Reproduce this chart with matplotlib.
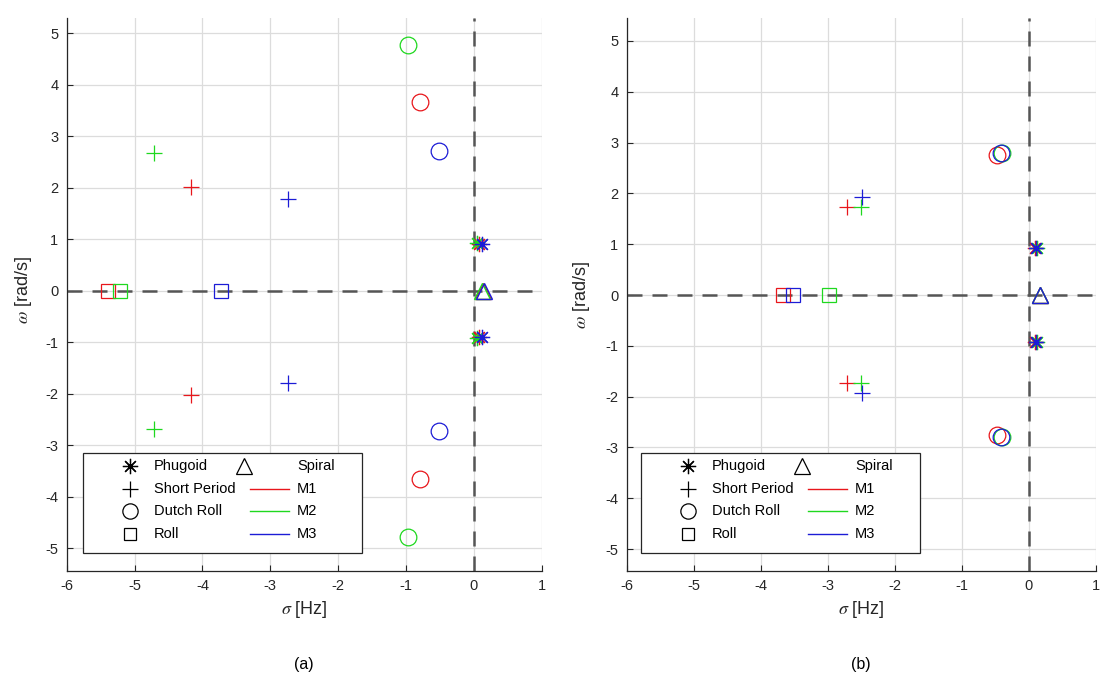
import matplotlib
matplotlib.use("Agg")
import matplotlib.pyplot as plt
from matplotlib.lines import Line2D
from matplotlib.patches import Rectangle

plt.rcParams['font.family'] = ['Liberation Sans', 'DejaVu Sans']
plt.rcParams['mathtext.fontset'] = 'stix'
plt.rcParams['axes.unicode_minus'] = False

# ---- eigenvalue data: sigma [Hz] (real part), omega [rad/s] (imag part) ----
models = ['M1', 'M2', 'M3']
colors = ['#e8161b', '#1fd81f', '#1c1cd6']

# (a)
phugoid_sigma_a = [0.08, 0.05, 0.12]
phugoid_omega_a = [0.90, 0.92, 0.90]
short_sigma_a = [-4.17, -4.71, -2.74]
short_omega_a = [2.02, 2.68, 1.79]
dutch_sigma_a = [-0.80, -0.97, -0.51]
dutch_omega_a = [3.66, 4.78, 2.72]
roll_sigma_a = [-5.39, -5.22, -3.72]
spiral_sigma_a = [0.13, 0.12, 0.15]

# (b)
phugoid_sigma_b = [0.09, 0.12, 0.11]
phugoid_omega_b = [0.92, 0.92, 0.92]
short_sigma_b = [-2.72, -2.50, -2.49]
short_omega_b = [1.74, 1.74, 1.92]
dutch_sigma_b = [-0.47, -0.40, -0.41]
dutch_omega_b = [2.75, 2.80, 2.79]
roll_sigma_b = [-3.67, -2.98, -3.52]
spiral_sigma_b = [0.16, 0.16, 0.16]

x_ticks = [-6, -5, -4, -3, -2, -1, 0, 1]
y_ticks = [-5, -4, -3, -2, -1, 0, 1, 2, 3, 4, 5]

W, H = 1102, 692
fig = plt.figure(figsize=(W / 100, H / 100), dpi=100)

AX_COL = '#262626'
DASH = '#555555'
ASTERISK = (8, 2, 0)   # plus and cross combined


def fx(px):
    return px / W


def fy(py):
    return 1 - py / H


def axes_px(left, right, top, bottom):
    return fig.add_axes([fx(left), fy(bottom), (right - left) / W, (bottom - top) / H])


def style_axes(ax, ylim):
    ax.set_xlim(-6, 1)
    ax.set_ylim(*ylim)
    ax.set_xticks(x_ticks)
    ax.set_yticks(y_ticks)
    ax.grid(True, color='#dcdcdc', linewidth=0.9)
    ax.set_axisbelow(True)
    for s in ('top', 'right'):
        ax.spines[s].set_visible(False)
    for s in ('left', 'bottom'):
        ax.spines[s].set_color(AX_COL)
        ax.spines[s].set_linewidth(0.9)
    ax.tick_params(direction='in', length=4, width=0.8, colors=AX_COL,
                   labelsize=10.5, pad=6)
    ax.axhline(0, color=DASH, lw=1.8, dashes=(6, 4), zorder=1)
    ax.axvline(0, color=DASH, lw=1.8, dashes=(6, 4), zorder=1)


def draw_modes(ax, ph_s, ph_w, sp_s, sp_w, dr_s, dr_w, ro_s, spi_s):
    for i, c in enumerate(colors):
        ax.plot([ph_s[i], ph_s[i]], [ph_w[i], -ph_w[i]], ls='none', marker=ASTERISK,
                ms=11, mfc='none', mec=c, mew=0.9, zorder=3)
        ax.plot([sp_s[i], sp_s[i]], [sp_w[i], -sp_w[i]], ls='none', marker='+',
                ms=12, mec=c, mew=0.9, zorder=3)
        ax.plot([dr_s[i], dr_s[i]], [dr_w[i], -dr_w[i]], ls='none', marker='o',
                ms=12, mfc='none', mec=c, mew=0.9, zorder=3)
        ax.plot([ro_s[i]], [0], ls='none', marker='s', ms=9.5, mfc='none',
                mec=c, mew=0.9, zorder=3)
        ax.plot([spi_s[i]], [0], ls='none', marker='^', ms=11, mfc='none',
                mec=c, mew=1.0, zorder=3)


def draw_legend(dx):
    box = Rectangle((fx(83 + dx), fy(553)), (279) / W, (100) / H,
                    transform=fig.transFigure, facecolor='white',
                    edgecolor=AX_COL, lw=0.9, zorder=10)
    fig.add_artist(box)
    rows = [466, 489, 511, 534]
    left_items = [(ASTERISK, 'Phugoid'), ('+', 'Short Period'),
                  ('o', 'Dutch Roll'), ('s', 'Roll')]
    msz = [11, 12, 11, 9]
    for (m, lab), ms, ry in zip(left_items, msz, rows):
        fig.add_artist(Line2D([fx(130 + dx)], [fy(ry)], transform=fig.transFigure,
                              ls='none', marker=m, ms=ms, mfc='none',
                              mec='black', mew=0.9, zorder=11))
        fig.text(fx(154 + dx), fy(ry), lab, fontsize=10.5, va='center',
                 ha='left', color='black', zorder=12)
    fig.add_artist(Line2D([fx(244 + dx)], [fy(rows[0])], transform=fig.transFigure,
                          ls='none', marker='^', ms=11, mfc='none',
                          mec='black', mew=0.9, zorder=11))
    fig.text(fx(297 + dx), fy(rows[0]), 'Spiral', fontsize=10.5, va='center',
             ha='left', color='black', zorder=12)
    for lab, c, ry in zip(models, colors, rows[1:]):
        fig.add_artist(Line2D([fx(250 + dx), fx(289 + dx)], [fy(ry), fy(ry)],
                              transform=fig.transFigure, color=c, lw=1.0,
                              zorder=11))
        fig.text(fx(297 + dx), fy(ry), lab, fontsize=10.5, va='center',
                 ha='left', color='black', zorder=12)


# (a)
ax1 = axes_px(66.7, 541.7, 18, 571)
style_axes(ax1, (-5.445, 5.298))
draw_modes(ax1, phugoid_sigma_a, phugoid_omega_a, short_sigma_a, short_omega_a,
           dutch_sigma_a, dutch_omega_a, roll_sigma_a, spiral_sigma_a)

# (b)
ax2 = axes_px(626.7, 1096.0, 18, 571)
style_axes(ax2, (-5.43, 5.45))
draw_modes(ax2, phugoid_sigma_b, phugoid_omega_b, short_sigma_b, short_omega_b,
           dutch_sigma_b, dutch_omega_b, roll_sigma_b, spiral_sigma_b)

draw_legend(0)
draw_legend(558)

# axis labels and panel captions
for cx, cap in ((304, '(a)'), (861, '(b)')):
    fig.text(fx(cx), fy(609), r'$\sigma$ [Hz]', fontsize=13, ha='center',
             va='center', color=AX_COL)
    fig.text(fx(cx), fy(664), cap, fontsize=11.5, ha='center', va='center',
             color='black')
fig.text(fx(23), fy(290), r'$\omega$ [rad/s]', fontsize=13, rotation=90,
         ha='center', va='center', color=AX_COL)
fig.text(fx(582), fy(295), r'$\omega$ [rad/s]', fontsize=13, rotation=90,
         ha='center', va='center', color=AX_COL)

fig.savefig('out.png', dpi=100)
